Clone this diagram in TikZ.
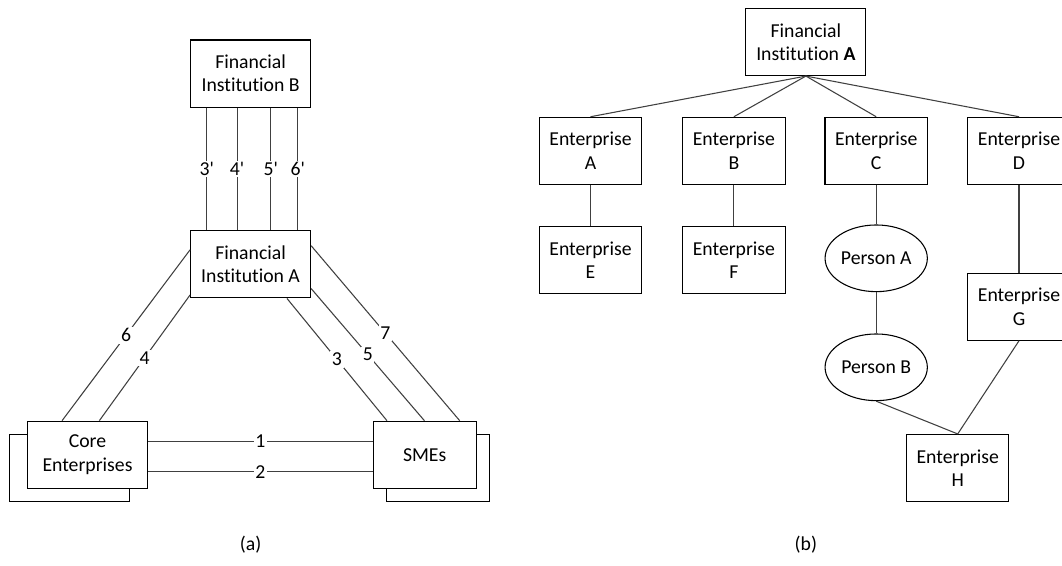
\documentclass[tikz,border=0pt]{standalone}
\usepackage{fontspec}
\newfontfamily\cfont{Carlito}[Ligatures=NoCommon]
\usetikzlibrary{calc,shapes.geometric}
\begin{document}
\begin{tikzpicture}[x=0.75pt,y=-0.75pt,
  every node/.style={font=\cfont\fontsize{14.8}{17.5}\selectfont},
  box/.style={draw=black,line width=0.8pt,fill=white,align=center,inner sep=0pt,minimum width=90pt,minimum height=50.3pt},
  sbox/.style={box,minimum width=77pt},
  ebox/.style={box,minimum width=76.8pt},
  pers/.style={ellipse,draw=black,line width=0.8pt,fill=white,inner sep=0pt,minimum width=76.7pt,minimum height=50pt},
  conn/.style={draw=black!75,line width=0.8pt},
  lab/.style={fill=white,inner sep=1.2pt,pos=0.5}]
\useasboundingbox (0,0) rectangle (1062,565);
\clip (0,0) rectangle (1062,565);
% ---------- (a) ----------
\node[box] (fib) at (250.6,73.5) {Financial\\Institution B};
\node[box] (fia) at (250.6,264.3) {Financial\\Institution A};
\node[box] (coreS) at (69.2,467.7) {};
\node[box] (core) at (87.5,454.7) {Core\\Enterprises};
\node[sbox] (smeS) at (437.8,467.7) {};
\node[sbox] (sme) at (424.7,454.7) {SMEs};
% FI B -- FI A
\foreach \f/\l in {0.139/3,0.389/4,0.667/5,0.889/6}{
  \draw[conn] ($(fib.south west)!\f!(fib.south east)$) -- ($(fia.north west)!\f!(fia.north east)$) node[lab] {\l'};
}
% FI A -- Core
\draw[conn] ($(fia.north west)!0.287!(fia.south west)$) -- ($(core.north west)!0.29!(core.north east)$) node[lab] {6};
\draw[conn] ($(fia.north west)!0.95!(fia.south west)$) -- ($(core.north west)!0.598!(core.north east)$) node[lab] {4};
% FI A -- SMEs
\draw[conn] ($(fia.south west)!0.80!(fia.south east)$) -- ($(sme.north west)!0.136!(sme.north east)$) node[lab] {3};
\draw[conn] ($(fia.north east)!0.856!(fia.south east)$) -- ($(sme.north west)!0.497!(sme.north east)$) node[lab] {5};
\draw[conn] ($(fia.north east)!0.227!(fia.south east)$) -- ($(sme.north west)!0.837!(sme.north east)$) node[lab] {7};
% Core -- SMEs
\draw[conn] ($(core.north east)!0.308!(core.south east)$) -- ($(sme.north west)!0.308!(sme.south west)$) node[lab] {1};
\draw[conn] ($(core.north east)!0.753!(core.south east)$) -- ($(sme.north west)!0.753!(sme.south west)$) node[lab] {2};
\node (capa) at (250.6,545) {(a)};
% ---------- (b) ----------
\node[box] (fia2) at (805.9,42) {Financial\\Institution \textbf{A}};
\node[ebox] (entA) at (590.5,150.8) {Enterprise\\A};
\node[ebox] (entB) at (733.9,150.8) {Enterprise\\B};
\node[ebox] (entC) at (876.2,150.8) {Enterprise\\C};
\node[ebox] (entD) at (1019,150.8) {Enterprise\\D};
\node[ebox] (entE) at (590.5,260) {Enterprise\\E};
\node[ebox] (entF) at (733.9,260) {Enterprise\\F};
\node[pers] (perA) at (876.2,258.3) {Person A};
\node[pers] (perB) at (876.2,367.3) {Person B};
\node[ebox] (entG) at (1019,306.7) {Enterprise\\G};
\node[ebox] (entH) at (957.7,468) {Enterprise\\H};
\foreach \n in {entA,entB,entC,entD}{
  \draw[conn] (fia2.south) -- (\n.north);
}
\draw[conn] (entA) -- (entE);
\draw[conn] (entB) -- (entF);
\draw[conn] (entC) -- (perA);
\draw[conn] (perA) -- (perB);
\draw[conn] (entD) -- (entG);
\draw[conn] (perB.south) -- (entH.north);
\draw[conn] (entG.south) -- (entH.north);
\node (capb) at (805.9,545) {(b)};
\end{tikzpicture}
\end{document}
